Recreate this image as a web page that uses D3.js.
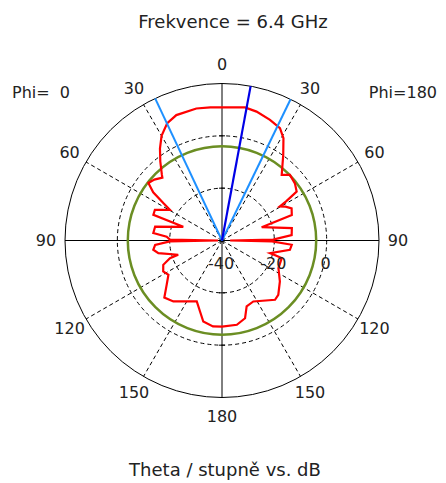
<!DOCTYPE html>
<html>
<head>
<meta charset="utf-8">
<script src="https://cdn.jsdelivr.net/npm/d3@7/dist/d3.min.js"></script>
<style>
  body { margin: 0; background: #fff; }
  text { font-family: 'DejaVu Sans', sans-serif; fill: #222; }
</style>
</head>
<body>
<svg width="446" height="483"></svg>
<script>
// Theta in degrees, gain in dB
let leftTheta = [0, 5, 11, 20, 25, 30, 34, 38, 42.5, 43.5, 48, 52, 55, 57.5, 59.5, 65.4, 69.5, 70.5, 78.2, 83.8, 86, 89, 90,
                 91, 93.7, 97.7, 101.2, 108, 108.7, 112.5, 117.8, 122.6, 128.7, 134.7, 141.4, 150, 157.5, 162.8, 167, 174, 180];
let leftGain  = [10.9, 11.1, 11.4, 11.0, 9.5, 6.2, 2.4, -1.7, -6.0, -6.9, -5.2, -4.3, -7.9, -13.4, -16.9, -11.8, -12.0, -24.3, -13.9, -13.6, -18.8, -20.1, -38.5,
                 -20.1, -14.4, -13.5, -15.2, -22.4, -19.0, -15.7, -14.6, -15.7, -12.9, -9.0, -10.2, -13.1, -14.8, -11.6, -8.2, -7.0, -7.1];

let rightTheta = [0, 9.8, 15, 21.7, 27.3, 31, 35.6, 42.3, 46, 51.9, 56.8, 58.6, 59.5, 62, 65.2, 69.9, 71.5, 80, 85.5, 89, 90,
                  91, 93.5, 97.8, 104.7, 106.4, 116, 125.3, 134, 138.2, 152.8, 159.5, 163.5, 170, 180];
let rightGain  = [10.9, 11.6, 11.0, 9.6, 8.3, 5.6, 0.2, -6.1, -3.9, -4.6, -5.9, -11.3, -14.4, -12.5, -10.7, -11.6, -24.0, -12.9, -13.3, -20.5, -36.9,
                  -20.9, -13.3, -13.8, -21.0, -16.2, -16.0, -12.9, -10.1, -9.6, -13.8, -13.1, -9.0, -7.3, -7.1];

let refLevel = -4;                 // green circle
let beamEdges = [-25.2, 25.9];     // light blue (negative = Phi 0 side)
let beamMax = [10.5];              // dark blue

let thetaTicks = [0, 30, 60, 90, 120, 150, 180];
let gainTicks = [-40, -20, 0];

let svg = d3.select('svg');
let cx = 222, cy = 240.5, R = 157;

let r = d3.scaleLinear().domain([-40, 20]).range([0, R]);
let rad = d => d * Math.PI / 180;

let g = svg.append('g').attr('transform', 'translate(' + cx + ',' + cy + ')');

// dashed grid circles
g.selectAll('.grid')
    .data(gainTicks.slice(1))
    .enter().append('circle')
    .attr('r', d => r(d))
    .attr('fill', 'none')
    .attr('stroke', '#000')
    .attr('stroke-width', 1)
    .attr('stroke-dasharray', '4,3');

// dashed spokes
let spokes = [30, 60, 120, 150];
spokes.forEach(t => {
    [-1, 1].forEach(s => {
        g.append('line')
            .attr('x1', 0).attr('y1', 0)
            .attr('x2', R * Math.sin(rad(s * t)))
            .attr('y2', -R * Math.cos(rad(s * t)))
            .attr('stroke', '#000')
            .attr('stroke-dasharray', '4,3');
    });
});

// axes
g.append('line').attr('x1', -R).attr('x2', R).attr('y1', 0).attr('y2', 0).attr('stroke', '#000');
g.append('line').attr('x1', 0).attr('x2', 0).attr('y1', -R).attr('y2', R).attr('stroke', '#000');
gainTicks.slice(1).forEach(v => {
    [-1, 1].forEach(s => {
        g.append('line').attr('x1', -3).attr('x2', 3)
            .attr('y1', s * r(v)).attr('y2', s * r(v)).attr('stroke', '#000');
    });
});

// outer circle
g.append('circle').attr('r', R).attr('fill', 'none').attr('stroke', '#000').attr('stroke-width', 1);

// reference level circle
g.append('circle').attr('r', r(refLevel)).attr('fill', 'none')
    .attr('stroke', '#6b8e23').attr('stroke-width', 2.5);

// pattern
let line = d3.lineRadial()
    .angle(d => rad(d[0]))
    .radius(d => r(d[1]));

let leftPts = leftTheta.map((t, i) => [-t, leftGain[i]]);
let rightPts = rightTheta.map((t, i) => [t, rightGain[i]]);

g.append('path').datum(leftPts).attr('d', line)
    .attr('fill', 'none').attr('stroke', '#ff0000').attr('stroke-width', 2.2);
g.append('path').datum(rightPts).attr('d', line)
    .attr('fill', 'none').attr('stroke', '#ff0000').attr('stroke-width', 2.2);

// beam lines
g.selectAll('.edge')
    .data(beamEdges)
    .enter().append('line')
    .attr('x1', 0).attr('y1', 0)
    .attr('x2', d => R * Math.sin(rad(d)))
    .attr('y2', d => -R * Math.cos(rad(d)))
    .attr('stroke', '#1e90ff').attr('stroke-width', 2);

g.selectAll('.max')
    .data(beamMax)
    .enter().append('line')
    .attr('x1', 0).attr('y1', 0)
    .attr('x2', d => R * Math.sin(rad(d)))
    .attr('y2', d => -R * Math.cos(rad(d)))
    .attr('stroke', '#0000e6').attr('stroke-width', 2.2);

// angle labels
let labR = R + 19;
let angLabels = [];
thetaTicks.forEach(t => {
    angLabels.push({ t: t, a: t });
    if (t !== 0 && t !== 180) angLabels.push({ t: t, a: -t });
});
g.selectAll('.ang')
    .data(angLabels)
    .enter().append('text')
    .attr('x', d => labR * Math.sin(rad(d.a)))
    .attr('y', d => -labR * Math.cos(rad(d.a)))
    .attr('text-anchor', 'middle')
    .attr('dominant-baseline', 'central')
    .style('font-size', '16px')
    .text(d => d.t);

// gain labels
g.selectAll('.gl')
    .data(gainTicks)
    .enter().append('text')
    .attr('x', d => r(d) - 1)
    .attr('y', 23)
    .attr('text-anchor', 'middle')
    .attr('dominant-baseline', 'central')
    .style('font-size', '16px')
    .text(d => d);

// titles
svg.append('text').attr('x', 233).attr('y', 21)
    .attr('text-anchor', 'middle').attr('dominant-baseline', 'central')
    .style('font-size', '18px').text('Frekvence = 6.4 GHz');

svg.append('text').attr('x', 225).attr('y', 469)
    .attr('text-anchor', 'middle').attr('dominant-baseline', 'central')
    .style('font-size', '18px').text('Theta / stupně vs. dB');

svg.append('text').attr('x', 12).attr('y', 92)
    .attr('dominant-baseline', 'central').attr('xml:space', 'preserve')
    .style('white-space', 'pre')
    .style('font-size', '16px').text('Phi=  0');

svg.append('text').attr('x', 437).attr('y', 92)
    .attr('text-anchor', 'end').attr('dominant-baseline', 'central')
    .style('font-size', '16px').text('Phi=180');
</script>
</body>
</html>
